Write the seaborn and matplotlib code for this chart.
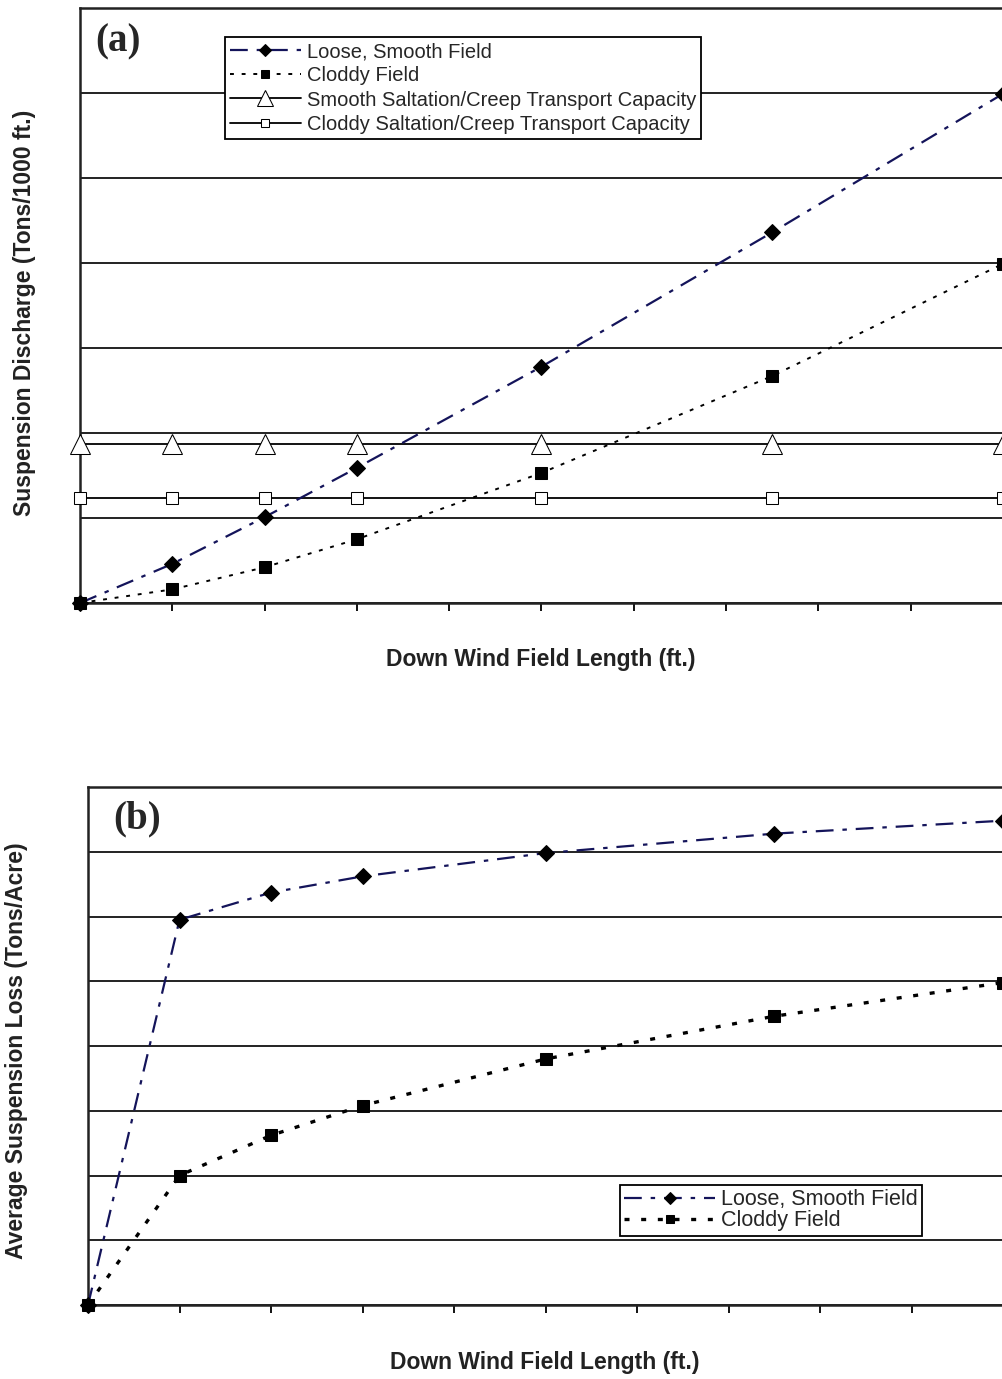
import pandas as pd
import seaborn as sns
import matplotlib.pyplot as plt

# field length (ft) at the plotted points
length_ft = [0, 100, 200, 300, 500, 750, 1000]

# panel (a): suspension discharge (grid units)
discharge_loose = [0, 0.46, 1.01, 1.59, 2.78, 4.36, 5.99]
discharge_cloddy = [0, 0.16, 0.42, 0.75, 1.53, 2.67, 3.99]
capacity_smooth = [1.87] * 7
capacity_cloddy = [1.24] * 7

# panel (b): average suspension loss (grid units)
loss_loose = [0, 5.95, 6.37, 6.62, 6.98, 7.28, 7.48]
loss_cloddy = [0, 2.0, 2.62, 3.08, 3.8, 4.46, 4.98]

sns.set_style("white")
plt.rcParams['font.family'] = ['Liberation Sans', 'DejaVu Sans']

navy = '#14145a'

fig = plt.figure(figsize=[10.03, 13.79], dpi=100)
ax1 = fig.add_axes([80/1003, 1-603/1379, 969/1003, 595/1379])
ax2 = fig.add_axes([88/1003, 1-1305/1379, 961/1003, 518/1379])

da = pd.DataFrame({'x': length_ft, 'loose': discharge_loose, 'cloddy': discharge_cloddy,
                   'cs': capacity_smooth, 'cc': capacity_cloddy})
db = pd.DataFrame({'x': length_ft, 'loose': loss_loose, 'cloddy': loss_cloddy})

# panel (a)
sns.lineplot(data=da, x='x', y='loose', ax=ax1, color=navy, lw=1.6,
             linestyle=(0, (8, 4, 2, 4)), marker='D', markersize=8, markerfacecolor='black',
             markeredgecolor='black', label='Loose, Smooth Field', zorder=4)
sns.lineplot(data=da, x='x', y='cloddy', ax=ax1, color='black', lw=1.4,
             linestyle=(0, (2, 4)), marker='s', markersize=8, markerfacecolor='black',
             markeredgecolor='black', label='Cloddy Field', zorder=4)
sns.lineplot(data=da, x='x', y='cs', ax=ax1, color='black', lw=1.3, marker='^',
             markersize=14, markerfacecolor='white', markeredgecolor='black',
             label='Smooth Saltation/Creep Transport Capacity', zorder=3)
sns.lineplot(data=da, x='x', y='cc', ax=ax1, color='black', lw=1.3, marker='s',
             markersize=8, markerfacecolor='white', markeredgecolor='black',
             label='Cloddy Saltation/Creep Transport Capacity', zorder=3)
ax1.set_ylim(0, 7)

# panel (b)
sns.lineplot(data=db, x='x', y='loose', ax=ax2, color=navy, lw=1.6,
             linestyle=(0, (8, 4, 2, 4)), marker='D', markersize=8, markerfacecolor='black',
             markeredgecolor='black', label='Loose, Smooth Field', zorder=4)
sns.lineplot(data=db, x='x', y='cloddy', ax=ax2, color='black', lw=2.4,
             linestyle=(0, (1.5, 3.5)), marker='s', markersize=8, markerfacecolor='black',
             markeredgecolor='black', label='Cloddy Field', zorder=4)
ax2.set_ylim(0, 8)

for ax in (ax1, ax2):
    ax.set_xlim(0, 1050)
    ax.set_xticks(range(0, 1001, 100))
    ax.set_yticks(range(0, int(ax.get_ylim()[1]) + 1))
    ax.set_xticklabels([])
    ax.set_yticklabels([])
    ax.tick_params(axis='x', direction='out', length=6, width=1.3, color='black', bottom=True)
    ax.tick_params(axis='y', length=0)
    ax.yaxis.grid(True, color='#222222', lw=1.4)
    ax.set_axisbelow(True)
    for s in ax.spines.values():
        s.set_color('#222222')
        s.set_linewidth(1.8)
    for ln in ax.lines:
        ln.set_clip_on(False)

lab = dict(fontsize=16.5, fontweight='bold', color='#222222')
ax1.set_xlabel('Down Wind Field Length (ft.)', **lab)
ax1.xaxis.set_label_coords(461/969, -45/595)
ax1.set_ylabel('Suspension Discharge (Tons/1000 ft.)', **lab)
ax1.yaxis.set_label_coords(-44/969, 0.487)
ax2.set_xlabel('Down Wind Field Length (ft.)', **lab)
ax2.xaxis.set_label_coords(457/961, -46/518)
ax2.set_ylabel('Average Suspension Loss (Tons/Acre)', **lab)
ax2.yaxis.set_label_coords(-60/961, 0.49)

ax1.text(15/969, 1-34/595, '(a)', transform=ax1.transAxes, fontsize=28, fontweight='bold',
         family=['Liberation Serif', 'DejaVu Serif'], va='center')
ax2.text(25/961, 1-32/518, '(b)', transform=ax2.transAxes, fontsize=28, fontweight='bold',
         family=['Liberation Serif', 'DejaVu Serif'], va='center')

leg1 = ax1.legend(loc='upper left', bbox_to_anchor=(145/969, 1-29/595), fontsize=14.5,
                  frameon=True, fancybox=False, framealpha=1, edgecolor='black',
                  borderpad=0.25, labelspacing=0.26, handlelength=3.5, handletextpad=0.3,
                  borderaxespad=0, markerscale=0.8)
leg1.get_frame().set_linewidth(1.3)
leg2 = ax2.legend(loc='upper left', bbox_to_anchor=(532/961, 120/518), fontsize=15.5,
                  frameon=True, fancybox=False, framealpha=1, edgecolor='black',
                  borderpad=0.2, labelspacing=0.0, handlelength=4.2, handletextpad=0.3,
                  borderaxespad=0, markerscale=0.8)
leg2.get_frame().set_linewidth(1.3)

plt.savefig('out.png', dpi=100, facecolor='w')
